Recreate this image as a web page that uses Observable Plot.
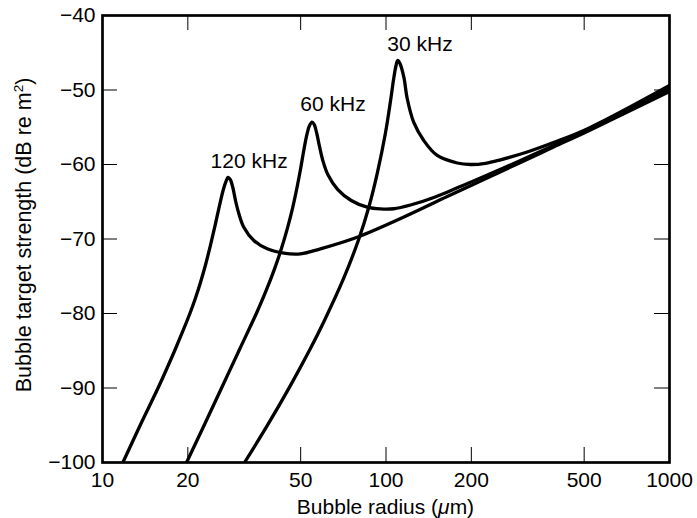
<!DOCTYPE html>
<html>
<head>
<meta charset="utf-8">
<script src="https://cdn.jsdelivr.net/npm/d3@7"></script>
<script src="https://cdn.jsdelivr.net/npm/@observablehq/plot@0.6"></script>
<style>
  html, body { margin: 0; padding: 0; background: #fff; }
  #chart { width: 697px; height: 518px; }
</style>
</head>
<body>
<div id="chart"></div>
<script>
// Bubble radius (µm) and target strength (dB re m²)
const r120  = [11.8, 13.62, 15.76, 17.95, 19.15, 20.43, 21.28, 22.16, 23.08, 24.04, 25.04, 26.08, 26.72, 27.27, 27.71, 28.21, 28.82, 29.45, 30.26, 31.51, 34.18, 38.1, 43.6, 49.9, 58.7, 79.1, 115.6, 164.4, 221.3, 298.2, 389.8, 512.6, 1000];
const db120 = [-100, -94.9, -89.87, -85.03, -82.48, -79.8, -77.92, -75.84, -73.49, -70.81, -67.92, -64.9, -63.29, -62.28, -61.74, -62.01, -63.09, -64.83, -66.58, -68.42, -70.2, -71.32, -71.9, -71.99, -71.32, -69.76, -67.05, -64.3, -62.01, -59.73, -57.65, -55.57, -50.2];

const r60  = [19.79, 22.9, 26.4, 30.43, 35.08, 37.89, 40.44, 42.8, 44.94, 46.8, 48.6, 49.94, 51.3, 52.64, 53.73, 54.83, 55.81, 57.0, 58.27, 59.86, 62.34, 67.6, 75.4, 85.85, 95.6, 106.5, 122.0, 147.5, 178.3, 215.4, 298.2, 389.8, 512.6, 1000];
const db60 = [-100, -94.9, -89.87, -84.83, -79.8, -76.81, -74.01, -71.25, -68.51, -65.89, -62.99, -60.64, -58.08, -55.93, -54.77, -54.3, -54.63, -55.84, -57.58, -59.46, -61.34, -63.36, -64.83, -65.73, -65.97, -65.94, -65.44, -64.42, -63.13, -61.81, -59.45, -57.45, -55.3, -49.8];

const r30  = [31.7, 38.2, 46.0, 53.95, 60.3, 71.0, 80.2, 87.0, 93.1, 99.6, 103.7, 106.5, 108.5, 110.0, 112.0, 115.6, 118.8, 125.3, 135.9, 151.6, 178.3, 198.6, 224.4, 253.5, 314.8, 389.8, 512.6, 1000];
const db30 = [-100, -94.99, -89.68, -84.81, -81.14, -75.23, -70.0, -65.7, -61.21, -55.74, -51.52, -48.42, -46.71, -46.04, -46.44, -48.28, -51.14, -54.36, -56.78, -58.79, -59.8, -60.0, -59.84, -59.37, -58.32, -57.05, -55.23, -49.4];

const labelText = ["120 kHz", "60 kHz", "30 kHz"];
const labelR    = [32.9, 65.0, 131.8];
const labelDB   = [-59.6, -51.9, -43.9];

const xTicks = [10, 20, 50, 100, 200, 500, 1000];
const yTicks = [-100, -90, -80, -70, -60, -50, -40];

const series = [
  {name: "120 kHz", r: r120, db: db120},
  {name: "60 kHz", r: r60, db: db60},
  {name: "30 kHz", r: r30, db: db30}
];
const rows = series.flatMap(s => s.r.map((r, i) => ({series: s.name, r, db: s.db[i]})));
const labels = labelText.map((t, i) => ({t, r: labelR[i], db: labelDB[i]}));

const W = 697, H = 518, ML = 102, MR = 28, MT = 15, MB = 56;
const PW = W - ML - MR, PH = H - MT - MB, TICK = 15;
const FONT = "Liberation Sans, Arial, Helvetica, sans-serif";
const fmtY = d => d < 0 ? "\u2212" + Math.abs(d) : String(d);

const plot = Plot.plot({
  width: W, height: H,
  marginLeft: ML, marginRight: MR, marginTop: MT, marginBottom: MB,
  style: {fontFamily: FONT, fontSize: "21px", color: "black", background: "white", overflow: "visible"},
  x: {type: "log", domain: [10, 1000], axis: null},
  y: {domain: [-100, -40]},
  marks: [
    // y tick labels
    Plot.axisY(yTicks, {anchor: "left", tickSize: 0, tickPadding: 7, tickFormat: fmtY, label: null, fontSize: 21}),
    // x tick labels
    Plot.text(xTicks, {x: d => d, frameAnchor: "bottom", lineAnchor: "top", dy: 9.5, text: d => String(d), fontSize: 21, fill: "black"}),
    // inward ticks on all four sides
    Plot.ruleX(xTicks, {x: d => d, insetTop: PH - TICK, stroke: "black", strokeWidth: 1}),
    Plot.ruleX(xTicks, {x: d => d, insetBottom: PH - TICK, stroke: "black", strokeWidth: 1}),
    Plot.ruleY(yTicks, {y: d => d, insetRight: PW - TICK, stroke: "black", strokeWidth: 1}),
    Plot.ruleY(yTicks, {y: d => d, insetLeft: PW - TICK, stroke: "black", strokeWidth: 1}),
    Plot.line(rows, {x: "r", y: "db", z: "series", stroke: "black", strokeWidth: 3.3, curve: "catmull-rom", strokeLinejoin: "round", strokeLinecap: "butt"}),
    Plot.text(labels, {x: "r", y: "db", text: "t", fontSize: 21, fill: "black", textAnchor: "middle", lineAnchor: "middle"}),
    Plot.frame({stroke: "black", strokeWidth: 2.7})
  ]
});

const svg = d3.select(plot);
// x-axis title with italic mu
const xt = svg.append("text")
  .attr("x", ML + PW / 2)
  .attr("y", 514)
  .attr("text-anchor", "middle")
  .attr("font-family", FONT)
  .attr("font-size", 21)
  .attr("fill", "black");
xt.append("tspan").text("Bubble radius (");
xt.append("tspan").attr("font-style", "italic").text("\u03bc");
xt.append("tspan").text("m)");

// y-axis title with superscript 2
const yt = svg.append("text")
  .attr("transform", `translate(30.5, 235) rotate(-90)`)
  .attr("text-anchor", "middle")
  .attr("font-family", FONT)
  .attr("font-size", 21.5)
  .attr("fill", "black");
yt.append("tspan").text("Bubble target strength (dB re m");
yt.append("tspan").attr("font-size", 13.5).attr("dy", -8).text("2");
yt.append("tspan").attr("dy", 8).text(")");

document.getElementById("chart").appendChild(plot);
</script>
</body>
</html>
